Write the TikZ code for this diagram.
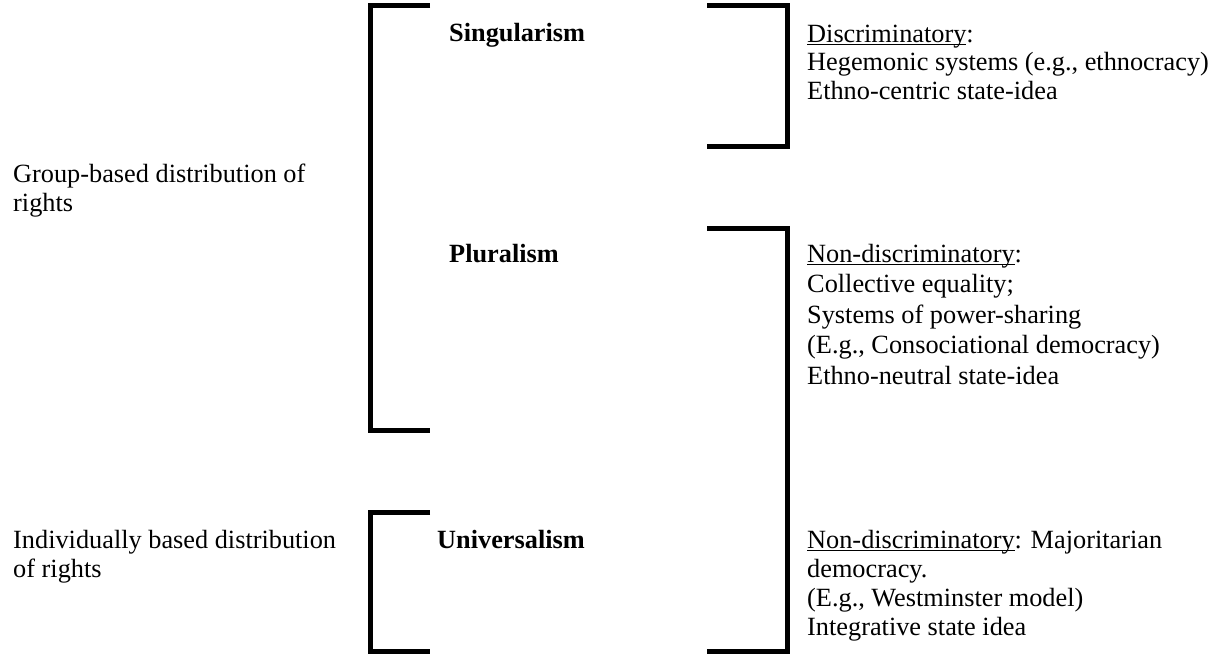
\documentclass[tikz,border=0pt]{standalone}
\usepackage{fontspec}
\setmainfont{Liberation Serif}
\usetikzlibrary{positioning}
\newcommand{\uword}[1]{\setbox0\hbox{#1}\rlap{\rule[-3pt]{\wd0}{1.4pt}}\box0}
\begin{document}
\begin{tikzpicture}[x=1pt,y=-1pt,
    bracket/.style={line width=5pt,line join=miter},
    txt/.style={inner sep=0pt,anchor=base west,align=left},
    ideal/.style={txt,font=\fontsize{26.3}{29}\selectfont\bfseries}]
\useasboundingbox (0,0) rectangle (1216,654);
% brackets
\draw[bracket] (430,5) -- (370,5) -- (370,430) -- (430,430);
\draw[bracket] (707,5) -- (787,5) -- (787,146) -- (707,146);
\draw[bracket] (707,228) -- (787,228) -- (787,651) -- (707,651);
\draw[bracket] (430,512) -- (370,512) -- (370,651) -- (430,651);
% distribution of rights (anchored at the last line's baseline)
\node[txt,font=\fontsize{26.3}{29.5}\selectfont] (group) at (13,211.5) {Group-based distribution of\\rights};
\node[txt,font=\fontsize{26.3}{29}\selectfont] (indiv) at (13,577) {Individually based distribution\\of rights};
% ideals
\node[ideal] (singular) at (449,41) {Singularism};
\node[ideal] (plural) at (449,262) {Pluralism};
\node[ideal] (universal) at (437,548) {Universalism};
% outcomes
\node[txt,font=\fontsize{26.3}{28.5}\selectfont] (hegemonic) at (807,99)
    {\uword{Discriminatory}:\\Hegemonic systems (e.g., ethnocracy)\\Ethno-centric state-idea};
\node[txt,font=\fontsize{26.3}{30.5}\selectfont] (consoc) at (807,384)
    {\uword{Non-discriminatory}:\\Collective equality;\\Systems of power-sharing\\(E.g., Consociational democracy)\\Ethno-neutral state-idea};
\node[txt,font=\fontsize{26.3}{29}\selectfont] (westminster) at (807,635)
    {\uword{Non-discriminatory}: Majoritarian\\democracy.\\(E.g., Westminster model)\\Integrative state idea};
\end{tikzpicture}
\end{document}
